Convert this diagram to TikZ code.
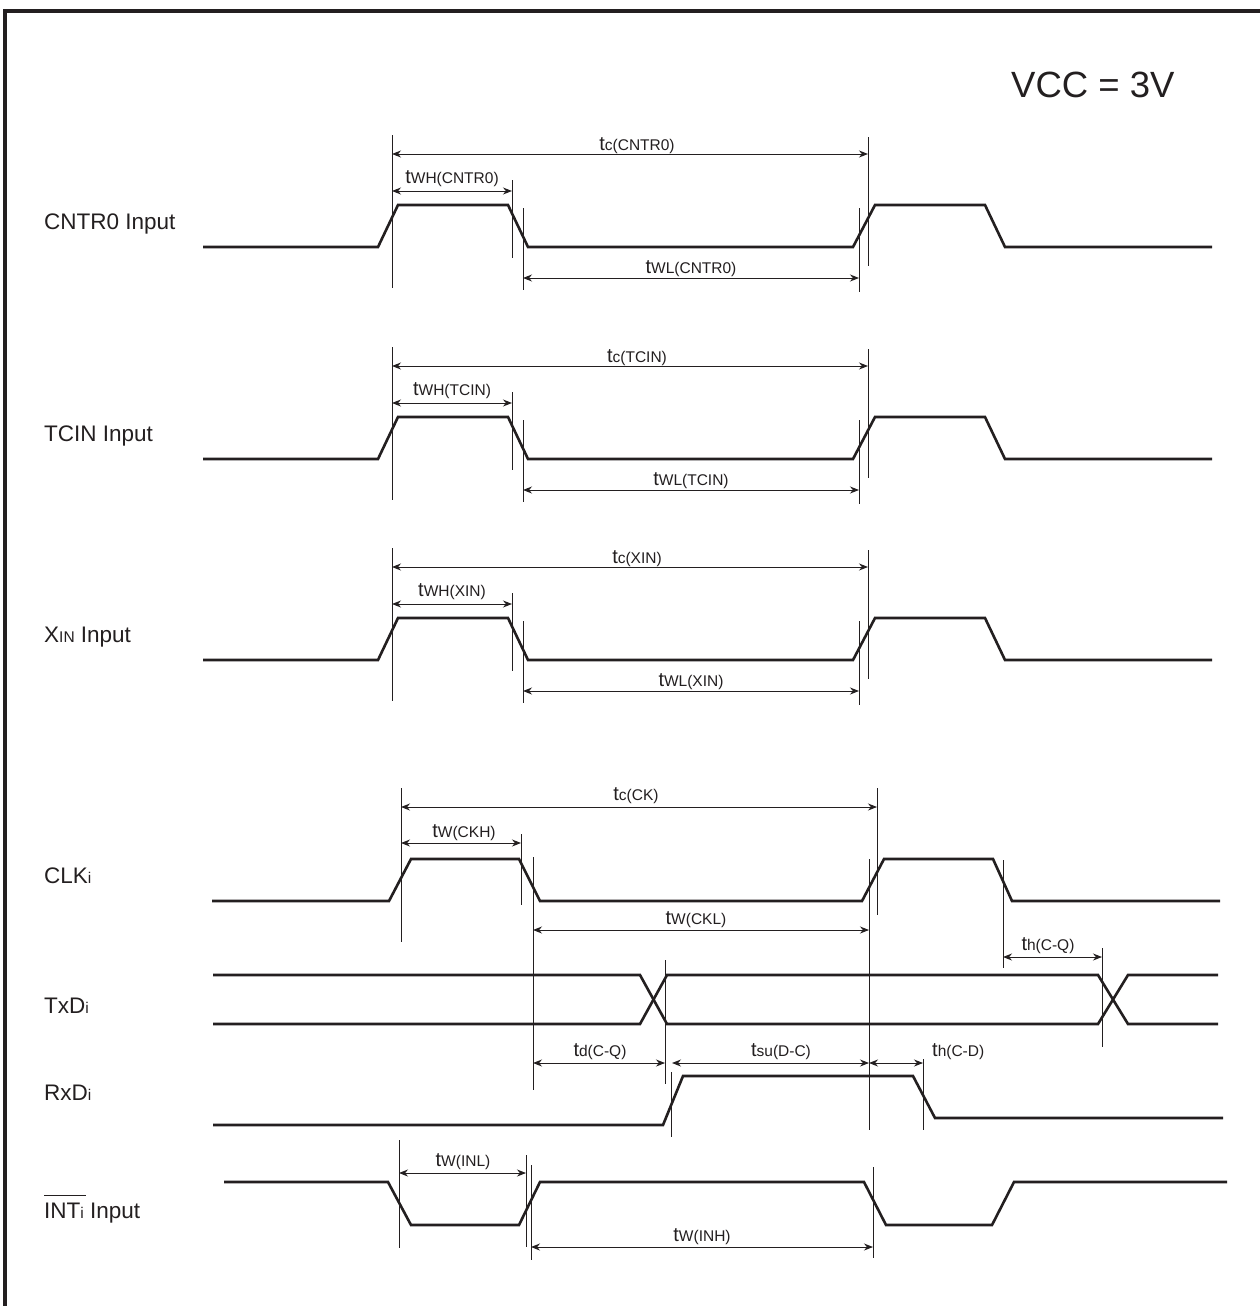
\documentclass[tikz,border=0pt]{standalone}
\usepackage{fontspec}
\setmainfont{Liberation Sans}
\usetikzlibrary{arrows.meta}
\definecolor{ink}{RGB}{35,31,32}
\newcommand{\tsub}[1]{{\fontsize{20}{22}\selectfont t}{\fontsize{15.5}{17}\selectfont #1}}
\newcommand{\lsub}[1]{{\fontsize{15.5}{17}\selectfont #1}}
\begin{document}
\begin{tikzpicture}[x=1pt,y=-1pt,
  sig/.style={line width=2.6pt, draw=ink},
  vl/.style={line width=1pt, draw=ink},
  dimarr/.style={line width=1pt, draw=ink, {Stealth[length=9pt,width=7pt]}-{Stealth[length=9pt,width=7pt]}},
  siglabel/.style={font=\fontsize{22.5}{26}\selectfont, anchor=base west, inner sep=0pt, text=ink},
  tlab/.style={anchor=base, inner sep=0pt, text=ink}]
\useasboundingbox (0,0) rectangle (1259,1306);
\fill[white] (0,0) rectangle (1259,1306);
% frame
\draw[line width=3.5pt, ink] (5,1310) -- (5,11) -- (1262,11);
% supply
\node[anchor=base west, inner sep=0pt, text=ink, font=\fontsize{36.5}{40}\selectfont] (vcc) at (1011,97) {VCC = 3V};

% three identical input rows
\foreach \dy/\nm/\txt/\sb in {0/a/{CNTR0 Input}/{CNTR0}, 212/b/{TCIN Input}/{TCIN}, 413/c/{X\lsub{IN} Input}/{XIN}}{
 \begin{scope}[shift={(0,\dy)}]
  \node[siglabel] (lab\nm) at (44,229) {\txt};
  \draw[sig] (203,247) -- (378,247) -- (398,205) -- (508,205) -- (528,247) -- (853,247) -- (875,205) -- (985,205) -- (1005,247) -- (1212,247);
  \draw[vl] (392,135) -- (392,288);
  \draw[vl] (512,180) -- (512,258);
  \draw[vl] (523,208) -- (523,290);
  \draw[vl] (859,208) -- (859,292);
  \draw[vl] (868,137) -- (868,266);
  \draw[dimarr] (392,154) -- (868,154);
  \draw[dimarr] (392,191) -- (512,191);
  \draw[dimarr] (523,278) -- (859,278);
  \node[tlab] (tc\nm) at (637,150) {\tsub{c(\sb)}};
  \node[tlab] (twh\nm) at (452,183) {\tsub{WH(\sb)}};
  \node[tlab] (twl\nm) at (691,273) {\tsub{WL(\sb)}};
 \end{scope}
}

% CLKi
\node[siglabel] (labclk) at (44,883) {CLK\lsub{i}};
\draw[sig] (212,901) -- (389,901) -- (411,859) -- (519,859) -- (540,901) -- (862,901) -- (884,859) -- (993,859) -- (1012,901) -- (1220,901);
\draw[vl] (401,788) -- (401,942);
\draw[vl] (521,834) -- (521,905);
\draw[vl] (533,857) -- (533,1090);
\draw[vl] (869,859) -- (869,1130);
\draw[vl] (877,788) -- (877,915);
\draw[vl] (1003,860) -- (1003,968);
\draw[dimarr] (401,807) -- (877,807);
\draw[dimarr] (401,843) -- (521,843);
\draw[dimarr] (533,930) -- (869,930);
\draw[dimarr] (1003,957) -- (1102,957);
\node[tlab] (tcck) at (636,800) {\tsub{c(CK)}};
\node[tlab] (twckh) at (464,837) {\tsub{W(CKH)}};
\node[tlab] (twckl) at (696,924) {\tsub{W(CKL)}};
\node[tlab] (thcq) at (1048,950) {\tsub{h(C-Q)}};

% TxDi
\node[siglabel] (labtxd) at (44,1013) {TxD\lsub{i}};
\draw[sig] (213,975) -- (640,975) -- (667,1024) -- (1098,1024) -- (1128,975) -- (1218,975);
\draw[sig] (213,1024) -- (640,1024) -- (667,975) -- (1098,975) -- (1128,1024) -- (1218,1024);
\draw[vl] (665,960) -- (665,1084);
\draw[vl] (1102,948) -- (1102,1047);
\draw[dimarr] (533,1063) -- (665,1063);
\draw[dimarr] (672,1063) -- (869,1063);
\draw[dimarr] (869,1063) -- (923,1063);
\node[tlab] (tdcq) at (600,1056) {\tsub{d(C-Q)}};
\node[tlab] (tsudc) at (781,1056) {\tsub{su(D-C)}};
\node[tlab, anchor=base west] (thcd) at (932,1056) {\tsub{h(C-D)}};

% RxDi
\node[siglabel] (labrxd) at (44,1100) {RxD\lsub{i}};
\draw[sig] (213,1125) -- (663,1125) -- (683,1076) -- (913,1076) -- (935,1118) -- (1223,1118);
\draw[vl] (671,1072) -- (671,1137);
\draw[vl] (923,1059) -- (923,1130);

% INTi
\node[siglabel] (labint) at (44,1218) {\makebox[0pt][l]{\raisebox{22pt}{\rule{41.5pt}{1.2pt}}}INT\lsub{i} Input};
\draw[sig] (224,1182) -- (388,1182) -- (411,1225) -- (519,1225) -- (540,1182) -- (864,1182) -- (886,1225) -- (992,1225) -- (1014,1182) -- (1227,1182);
\draw[vl] (399,1140) -- (399,1248);
\draw[vl] (526,1155) -- (526,1247);
\draw[vl] (531,1165) -- (531,1260);
\draw[vl] (873,1167) -- (873,1258);
\draw[dimarr] (399,1173) -- (526,1173);
\draw[dimarr] (531,1247) -- (873,1247);
\node[tlab] (twinl) at (463,1166) {\tsub{W(INL)}};
\node[tlab] (twinh) at (702,1241) {\tsub{W(INH)}};
\end{tikzpicture}
\end{document}
